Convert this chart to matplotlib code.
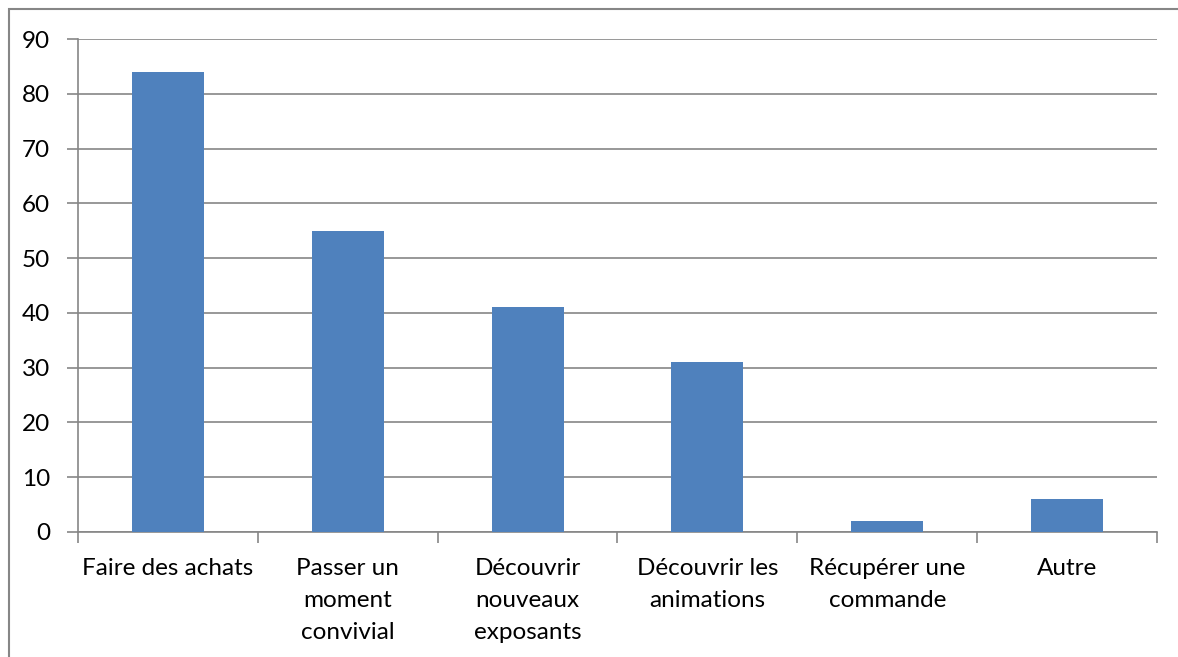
import numpy as np
import matplotlib.pyplot as plt
from matplotlib.patches import Rectangle

# Data.
categories = ["Faire des achats", "Passer un\nmoment\nconvivial", "Découvrir\nnouveaux\nexposants",
              "Découvrir les\nanimations", "Récupérer une\ncommande", "Autre"]
values = [84, 55, 41, 31, 2, 6]
yticks = [0, 10, 20, 30, 40, 50, 60, 70, 80, 90]

barColor = "#4F81BD"
lineColor = "#868686"

plt.rcParams['font.family'] = ['Lato', 'DejaVu Sans']

fig = plt.figure(figsize=(11.78, 6.57), dpi=100)
ax = fig.add_axes([78/1178, 1-532/657, (1157-78)/1178, (532-39)/657])

x = np.arange(len(categories))
ax.bar(x, values, width=0.4, color=barColor, zorder=3)

ax.set_xlim(-0.5, len(categories)-0.5)
ax.set_ylim(0, 90)
ax.set_yticks(yticks)
ax.yaxis.grid(True, color=lineColor, linewidth=1.2, zorder=0)

# Category labels sit between the boundary ticks.
ax.set_xticks(x)
ax.set_xticklabels(categories, fontsize=17.5, linespacing=1.63, va='top')
ax.tick_params(axis='x', which='major', length=0, pad=19)
ax.set_xticks(np.arange(len(categories)+1) - 0.5, minor=True)
ax.tick_params(axis='x', which='minor', length=8, color=lineColor, width=1.2)
ax.tick_params(axis='y', length=8, color=lineColor, width=1.2, labelsize=17.5, pad=12)

for side in ['top', 'right']:
    ax.spines[side].set_visible(False)
for side in ['left', 'bottom']:
    ax.spines[side].set_color(lineColor)
    ax.spines[side].set_linewidth(1.2)

# Outer chart border (cut by the image edge on the right and bottom).
fig.patches.append(Rectangle((9/1178, -0.1), 1.2, 1-9/657+0.1, transform=fig.transFigure,
                             fill=False, edgecolor=lineColor, linewidth=1.5))

plt.savefig("out.png", dpi=100)
